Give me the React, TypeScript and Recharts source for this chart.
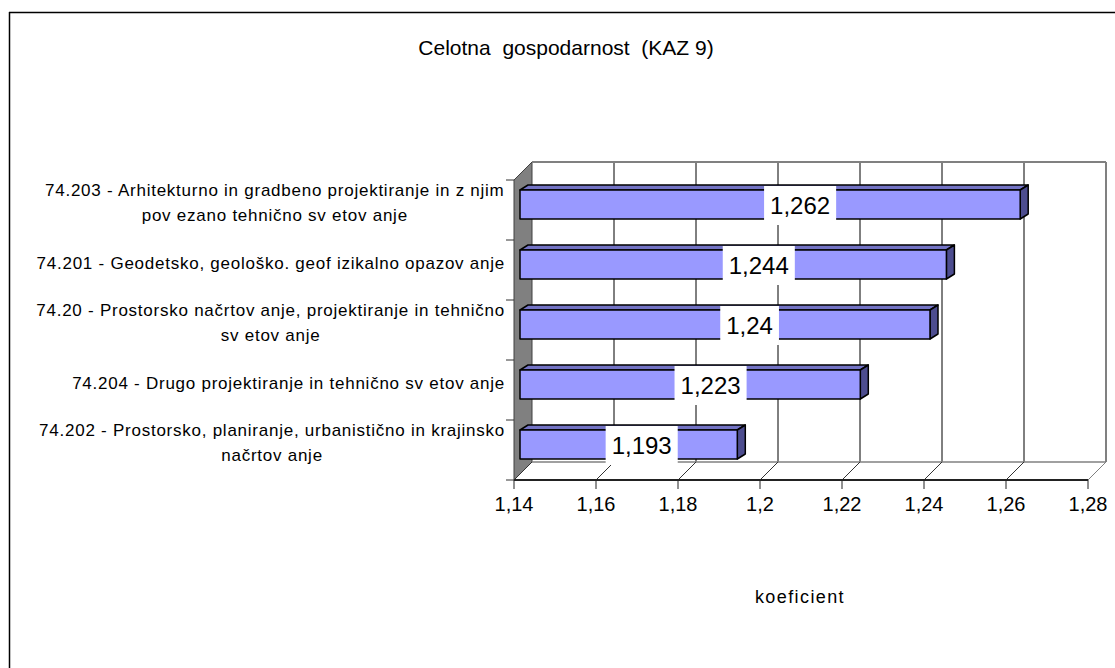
import React from 'react';
import { BarChart, Bar, XAxis, YAxis, LabelList } from 'recharts';

const categories = [
  '74.203 - Arhitekturno in gradbeno projektiranje in z njim\npov ezano tehnično sv etov anje',
  '74.201 - Geodetsko, geološko. geof izikalno opazov anje',
  '74.20 - Prostorsko načrtov anje, projektiranje in tehnično\nsv etov anje',
  '74.204 - Drugo projektiranje in tehnično sv etov anje',
  '74.202 - Prostorsko, planiranje, urbanistično in krajinsko\nnačrtov anje',
];
const values = [1.262, 1.244, 1.24, 1.223, 1.193];
const xTicks = [1.14, 1.16, 1.18, 1.2, 1.22, 1.24, 1.26, 1.28];
const title = 'Celotna  gospodarnost  (KAZ 9)';
const axisTitle = 'koeficient';

const data = categories.map((name, i) => ({ name, value: values[i] }));

const FONT = '"Liberation Sans", Arial, sans-serif';
const W = 1115;
const H = 668;
// plot area (front plane)
const PL = 514;
const PR = 1088;
const PT = 180;
const PB = 480;
const D = 18; // 3d depth of the walls
const BAR_OFF = 6; // bars sit a little behind the front plane

let ctx: CanvasRenderingContext2D | null = null;
const measure = (s: string, font: string, spacing = 0) => {
  if (!ctx) ctx = document.createElement('canvas').getContext('2d');
  if (!ctx) return s.length * 8;
  ctx.font = font;
  return ctx.measureText(s).width + spacing * s.length;
};

const fmt = (v: number) => String(v).replace('.', ',');

const gx = (t: number) =>
  PL + ((t - xTicks[0]) / (xTicks[xTicks.length - 1] - xTicks[0])) * (PR - PL);

const Backdrop = () => {
  const band = (PB - PT) / categories.length;
  return (
    <g>
      {/* outer frame, right and bottom edges fall outside the picture */}
      <line x1={9.5} y1={12} x2={9.5} y2={H} stroke="#000" strokeWidth={1.5} />
      <line x1={9} y1={12.5} x2={W} y2={12.5} stroke="#000" strokeWidth={1.5} />
      <text x={566} y={47} textAnchor="middle" dominantBaseline="central" fontSize={21} fontFamily={FONT} style={{ whiteSpace: 'pre' }}>
        {title}
      </text>
      <text x={800} y={597} textAnchor="middle" dominantBaseline="central" fontSize={18} letterSpacing={1.4} fontFamily={FONT}>
        {axisTitle}
      </text>
      {/* side wall */}
      <polygon
        points={`${PL},${PT} ${PL + D},${PT - D} ${PL + D},${PB - D} ${PL},${PB}`}
        fill="#808080"
        stroke="#404040"
        strokeWidth={1}
      />
      {/* back wall gridlines */}
      {xTicks.slice(1).map((t) => (
        <line key={`g${t}`} x1={gx(t) + D} y1={PT - D} x2={gx(t) + D} y2={PB - D} stroke="#000" strokeWidth={1} />
      ))}
      <line x1={PL + D} y1={PT - D} x2={PR + D} y2={PT - D} stroke="#808080" strokeWidth={2} />
      <line x1={PR + D} y1={PT - D} x2={PR + D} y2={PB - D} stroke="#808080" strokeWidth={2} />
      {/* floor */}
      <line x1={PL + D} y1={PB - D} x2={PR + D} y2={PB - D} stroke="#808080" strokeWidth={1.5} />
      {xTicks.map((t) => (
        <line key={`f${t}`} x1={gx(t)} y1={PB} x2={gx(t) + D} y2={PB - D} stroke={t === xTicks[xTicks.length - 1] ? '#808080' : '#333'} strokeWidth={1} />
      ))}
      {/* category boundary ticks */}
      {categories.concat(['']).map((_, i) => (
        <line key={`c${i}`} x1={PL - 8} y1={PT + band * i} x2={PL} y2={PT + band * i} stroke="#333" strokeWidth={1} />
      ))}
    </g>
  );
};

const Bar3D = (props: any) => {
  const { x, y, width, height } = props;
  const fx = x + BAR_OFF;
  const fy = y - BAR_OFF;
  const dx = 8;
  const dy = 5;
  return (
    <g stroke="#000" strokeWidth={1.5} strokeLinejoin="round">
      <polygon
        points={`${fx},${fy} ${fx + dx},${fy - dy} ${fx + width + dx},${fy - dy} ${fx + width},${fy}`}
        fill="#7373C4"
      />
      <polygon
        points={`${fx + width},${fy} ${fx + width + dx},${fy - dy} ${fx + width + dx},${fy + height - dy} ${fx + width},${fy + height}`}
        fill="#4D4D8F"
      />
      <rect x={fx} y={fy} width={width} height={height} fill="#9999FF" />
    </g>
  );
};

const ValueLabel = (props: any) => {
  const { x, y, width, height, value } = props;
  const txt = fmt(Number(value));
  const font = `24px ${FONT}`;
  const tw = measure(txt, font);
  const cx = x + BAR_OFF + width * 0.56;
  const cy = y - BAR_OFF + height / 2 + 1;
  const bw = tw + 12;
  const bh = 39;
  return (
    <g>
      <rect x={cx - bw / 2} y={cy - bh / 2} width={bw} height={bh} fill="#fff" />
      <text x={cx} y={cy} textAnchor="middle" dominantBaseline="central" fontSize={24} fontFamily={FONT} fill="#000">
        {txt}
      </text>
    </g>
  );
};

const CAT_SIZE = 17;
const CAT_SPACING = 0.75;

const CatTick = (props: any) => {
  const { y, payload } = props;
  const lines = String(payload.value).split('\n');
  const font = `${CAT_SIZE}px ${FONT}`;
  const w = Math.max(...lines.map((l) => measure(l, font, CAT_SPACING)));
  const right = 505;
  const cx = right - w / 2;
  const lh = 25;
  const cy = y - 7;
  return (
    <g>
      {lines.map((l, i) => (
        <text
          key={i}
          x={cx}
          y={cy + (i - (lines.length - 1) / 2) * lh}
          textAnchor="middle"
          dominantBaseline="central"
          fontSize={CAT_SIZE}
          letterSpacing={CAT_SPACING}
          fontFamily={FONT}
          fill="#000"
          style={{ whiteSpace: 'pre' }}
        >
          {l}
        </text>
      ))}
    </g>
  );
};

export default function App() {
  return (
    <div style={{ position: 'absolute', left: 0, top: 0, width: W, height: H, background: '#fff' }}>
      <BarChart
        width={W}
        height={H}
        data={data}
        layout="vertical"
        margin={{ top: PT, right: W - PR, bottom: H - PB - 40, left: 0 }}
        barSize={29}
      >
        <Backdrop />
        <XAxis
          type="number"
          domain={[xTicks[0], xTicks[xTicks.length - 1]]}
          ticks={xTicks}
          tickFormatter={fmt}
          height={40}
          axisLine={{ stroke: '#222', strokeWidth: 2 }}
          tickLine={{ stroke: '#222' }}
          tickSize={9}
          tickMargin={8}
          tick={{ fill: '#000', fontSize: 20, fontFamily: FONT }}
          allowDataOverflow
        />
        <YAxis
          type="category"
          dataKey="name"
          width={PL}
          axisLine={false}
          tickLine={false}
          tick={<CatTick />}
          interval={0}
        />
        <Bar dataKey="value" shape={<Bar3D />} isAnimationActive={false}>
          <LabelList dataKey="value" content={<ValueLabel />} />
        </Bar>
      </BarChart>
    </div>
  );
}
